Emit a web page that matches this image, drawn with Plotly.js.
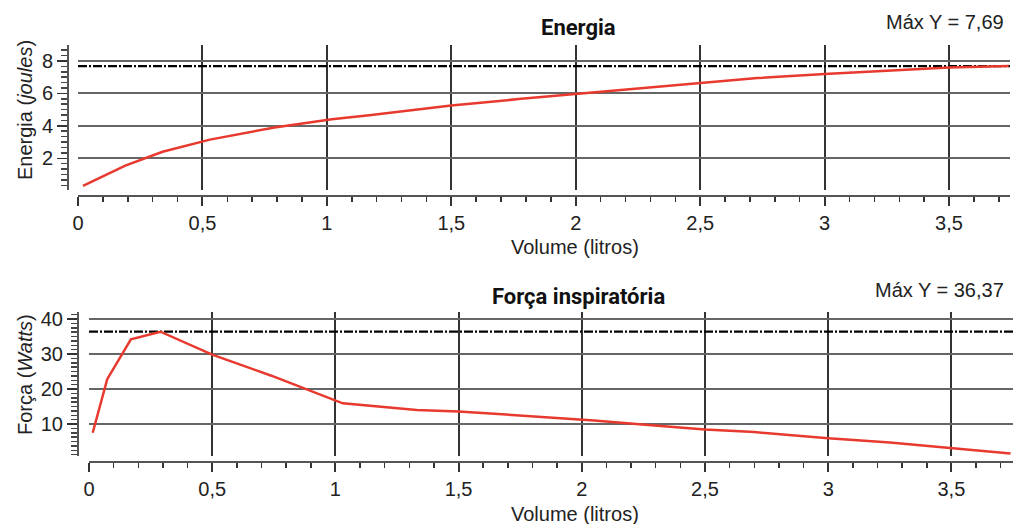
<!DOCTYPE html>
<html><head><meta charset="utf-8">
<script src="https://cdn.plot.ly/plotly-3.0.1.min.js"></script>
<style>html,body{margin:0;padding:0;background:#fff}#chart{width:1019px;height:524px}</style>
</head><body><div id="chart"></div>
<script>
// Energia (joules) vs Volume (litros)
const energiaVolume = [0.02, 0.19, 0.34, 0.53, 0.79, 1.02, 1.17, 1.5, 1.77, 2.02, 2.27, 2.5, 2.73, 3.0, 3.27, 3.5, 3.74];
const energiaValores = [0.3, 1.55, 2.4, 3.15, 3.9, 4.4, 4.65, 5.25, 5.65, 6.0, 6.35, 6.65, 6.95, 7.2, 7.42, 7.6, 7.69];
// Força inspiratória (Watts) vs Volume (litros)
const forcaVolume = [0.015, 0.074, 0.17, 0.29, 0.5, 0.74, 1.03, 1.33, 1.5, 1.8, 2.05, 2.27, 2.5, 2.7, 3.0, 3.25, 3.5, 3.74];
const forcaValores = [7.5, 22.8, 34.2, 36.37, 29.8, 23.8, 15.9, 14.0, 13.6, 12.2, 11.0, 9.7, 8.4, 7.7, 5.9, 4.7, 3.2, 1.6];
const energiaMax = 7.69;
const forcaMax = 36.37;
const xRangeTop = [0, 3.745];
const xRangeBottom = [0, 3.75];

const FONT = "'Liberation Sans Narrow', 'Arial Narrow', 'Liberation Sans', sans-serif";
const TITLEFONT = "Roboto, 'Liberation Sans', Arial, sans-serif";
const W = 1019, H = 524;
const px = v => v / W, py = v => 1 - v / H;

const red = '#e8392f';
const dashdot = '9px,2px,2px,2px';

const traces = [
  {x: xRangeTop, y: [energiaMax, energiaMax], xaxis: 'x', yaxis: 'y', mode: 'lines',
   line: {color: '#000', width: 2.2, dash: dashdot}, hoverinfo: 'skip'},
  {x: energiaVolume, y: energiaValores, xaxis: 'x', yaxis: 'y', mode: 'lines',
   line: {color: red, width: 2.5}},
  {x: xRangeBottom, y: [forcaMax, forcaMax], xaxis: 'x2', yaxis: 'y2', mode: 'lines',
   line: {color: '#000', width: 2.2, dash: dashdot}, hoverinfo: 'skip'},
  {x: forcaVolume, y: forcaValores, xaxis: 'x2', yaxis: 'y2', mode: 'lines',
   line: {color: red, width: 2.5}}
];

const xCommon = {
  dtick: 0.5, tick0: 0, ticks: 'outside', ticklen: 9, tickwidth: 2, tickcolor: '#333',
  showline: true, linecolor: '#555', linewidth: 2,
  showgrid: true, gridcolor: '#333', gridwidth: 2, zeroline: false,
  minor: {dtick: 0.1, ticks: 'outside', ticklen: 5, tickwidth: 1.5, tickcolor: '#333', showgrid: false},
  tickfont: {family: FONT, size: 20, color: '#222'}, anchor: 'free', fixedrange: true
};
const yCommon = {
  ticks: 'outside', ticklen: 10, tickwidth: 1.5, tickcolor: '#333',
  showline: true, linecolor: '#555', linewidth: 2,
  showgrid: true, gridcolor: '#666', gridwidth: 2, zeroline: false,
  tickfont: {family: FONT, size: 20, color: '#222'}, anchor: 'free', fixedrange: true
};

const layout = {
  width: W, height: H, margin: {l: 0, r: 0, t: 0, b: 0},
  paper_bgcolor: '#fff', plot_bgcolor: '#fff', showlegend: false,
  separators: ',.',
  font: {family: FONT, size: 20, color: '#222'},
  xaxis: Object.assign({}, xCommon, {domain: [px(78), px(1010)], range: xRangeTop, position: py(196)}),
  yaxis: Object.assign({}, yCommon, {domain: [py(190), py(45)], range: [0.04, 8.99], dtick: 2, tick0: 0,
    position: px(68), minor: {dtick: 1/3, ticks: 'outside', ticklen: 6, tickwidth: 1.5, tickcolor: '#444', showgrid: false}}),
  xaxis2: Object.assign({}, xCommon, {domain: [px(89), px(1013)], range: xRangeBottom, position: py(462)}),
  yaxis2: Object.assign({}, yCommon, {domain: [py(456), py(312)], range: [0.86, 42], dtick: 10, tick0: 0,
    position: px(78), minor: {dtick: 1.25, ticks: 'outside', ticklen: 6, tickwidth: 1.5, tickcolor: '#444', showgrid: false}}),
  annotations: [
    {text: '<b>Energia</b>', x: px(578), y: py(28), xref: 'paper', yref: 'paper', showarrow: false,
     xanchor: 'center', yanchor: 'middle', font: {family: TITLEFONT, size: 22, color: '#111'}},
    {text: 'Máx Y = 7,69', x: px(1006), y: py(22), xref: 'paper', yref: 'paper', showarrow: false,
     xanchor: 'right', yanchor: 'middle', font: {family: FONT, size: 20, color: '#222'}},
    {text: 'Volume (litros)', x: px(575), y: py(247), xref: 'paper', yref: 'paper', showarrow: false,
     xanchor: 'center', yanchor: 'middle', font: {family: FONT, size: 20, color: '#222'}},
    {text: 'Energia (<i>joules</i>)', x: px(25), y: py(110), xref: 'paper', yref: 'paper', showarrow: false,
     textangle: -90, xanchor: 'center', yanchor: 'middle', font: {family: FONT, size: 20, color: '#222'}},
    {text: '<b>Força inspiratória</b>', x: px(578), y: py(296), xref: 'paper', yref: 'paper', showarrow: false,
     xanchor: 'center', yanchor: 'middle', font: {family: TITLEFONT, size: 22, color: '#111'}},
    {text: 'Máx Y = 36,37', x: px(1006), y: py(290), xref: 'paper', yref: 'paper', showarrow: false,
     xanchor: 'right', yanchor: 'middle', font: {family: FONT, size: 20, color: '#222'}},
    {text: 'Volume (litros)', x: px(575), y: py(514), xref: 'paper', yref: 'paper', showarrow: false,
     xanchor: 'center', yanchor: 'middle', font: {family: FONT, size: 20, color: '#222'}},
    {text: 'Força (<i>Watts</i>)', x: px(25), y: py(375), xref: 'paper', yref: 'paper', showarrow: false,
     textangle: -90, xanchor: 'center', yanchor: 'middle', font: {family: FONT, size: 20, color: '#222'}}
  ]
};

Plotly.newPlot('chart', traces, layout, {displayModeBar: false, staticPlot: true});
</script></body></html>
